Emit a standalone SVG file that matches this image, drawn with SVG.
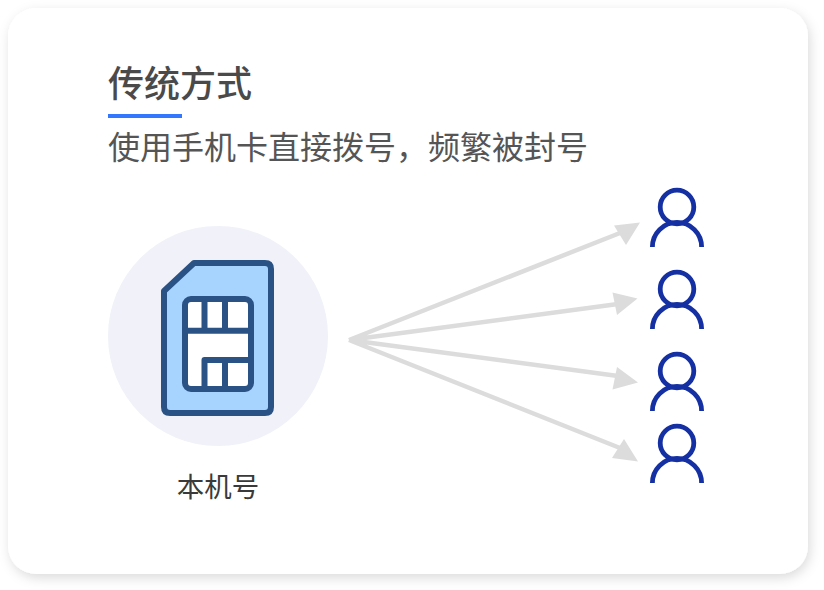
<svg xmlns="http://www.w3.org/2000/svg" width="824" height="590" viewBox="0 0 824 590">
<defs>
<filter id="sh" x="-5%" y="-5%" width="110%" height="110%"><feDropShadow dx="2" dy="4" stdDeviation="6" flood-color="#000" flood-opacity="0.14"/></filter>
<g id="person"><circle cx="677" cy="207" r="16.800" fill="none" stroke="#1530a2" stroke-width="4.800"/><path d="M652.400 247A24.600 24.600 0 0 1 701.600 247" fill="none" stroke="#1530a2" stroke-width="4.800"/></g>
</defs>
<style>
text{font-family:"Noto Sans CJK SC","Noto Sans",sans-serif}
.l{stroke:#dcdcdc;stroke-width:4.500;fill:none}
.h{fill:#dcdcdc}
.s{stroke:#2b5284;stroke-width:6;stroke-linejoin:round}
</style>
<rect width="824" height="590" fill="#fff"/>
<rect id="card" x="8" y="8" width="800" height="566" rx="28" fill="#fff" filter="url(#sh)"/>
<g id="title">
<text x="108" y="97" font-size="36" font-weight="500" fill="#4a4a4a">传统方式</text>
<rect x="108" y="114" width="74" height="4" fill="#3377ff"/>
<text x="108" y="159" font-size="32" fill="#555">使用手机卡直接拨号&#xFF0C;频繁被封号</text>
</g>
<g id="sim">
<circle cx="218" cy="336" r="110" fill="#f0f1f9"/>
<path class="s" fill="#a6d4ff" d="M194 263H265Q271 263 271 269V407Q271 413 265 413H170Q164 413 164 407V291Z"/>
<rect class="s" x="185" y="299" width="66" height="90" rx="6" fill="#fff"/>
<path class="s" fill="none" d="M185 330.700H251M204.500 299V330.700M225 299V330.700M251 360H204.500V389M225 360V389"/>
<text x="218" y="497" font-size="27.500" fill="#3a3a3a" text-anchor="middle">本机号</text>
</g>
<g id="connectors">
<path class="l" d="M349 340L620 233M349 340L618 304M349 340L618 376M349 340L620 448"/>
<path class="h" d="M640 222.500L614 225.500L626 245ZM637.500 298.500L612.500 292.500L617 315ZM638 382.500L617 367L612.500 389.500ZM638 461.500L624 439L612 458Z"/>
</g>
<use id="user1" href="#person"/>
<use id="user2" href="#person" y="82"/>
<use id="user3" href="#person" y="164"/>
<use id="user4" href="#person" y="236"/>
</svg>
